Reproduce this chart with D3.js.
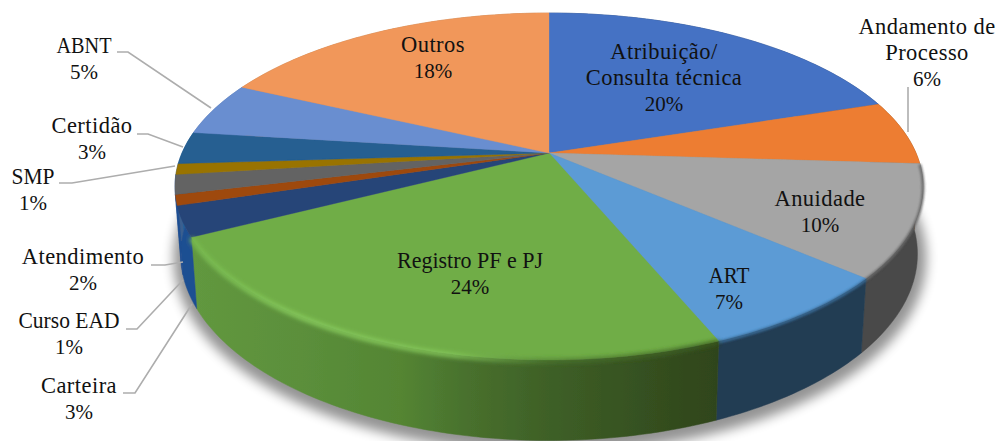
<!DOCTYPE html>
<html><head><meta charset="utf-8">
<script src="https://cdn.jsdelivr.net/npm/d3@7/dist/d3.min.js"></script>
<style>html,body{margin:0;padding:0;background:#fff}svg{display:block}</style>
</head><body><svg id="c" width="997" height="441"></svg>
<script>
// ---- data ----
const categories = ["Atribuição/ Consulta técnica","Andamento de Processo","Anuidade","ART","Registro PF e PJ","Carteira","Curso EAD","Atendimento","SMP","Certidão","ABNT","Outros"];
const shares = [20,6,10.4,7.4,23.6,2.8,1.0,1.8,1,3,5,18];
const topColors = ["#4472C4","#ED7D31","#A5A5A5","#5B9BD5","#70AD47","#264478","#9E480E","#636363","#997300","#255E91","#698ED0","#F1975A"];
const wallColors = ["#2a4678","#91501f","#484848","#233C52","url(#gw)","#1f4f92","#1f4f92","#1f4f92","#3a5f8f","#25639b","#5678b0","#c07a45"];
// ---- layout ----
const labelLines = [["Atribuição/","Consulta técnica"],["Andamento de","Processo"],["Anuidade"],["ART"],["Registro PF e PJ"],["Carteira"],["Curso EAD"],["Atendimento"],["SMP"],["Certidão"],["ABNT"],["Outros"]];
const labelPos = [[664,59],[927,34],[820,206],[729,283],[470,268],[79,393],[69,328],[83,264],[33,184],[92,133],[84,53],[433,52]];
const lineWidths = {"Registro PF e PJ":146,"Curso EAD":101,"ABNT":55,"ART":41,"SMP":43};
const leaders = [null,[[908,87],[908,132]],null,null,null,
 [[123,393],[135,393],[192,304]],[[126,329],[137,329],[183,280]],[[151,265],[165,265],[183,262]],
 [[59,183],[72,183],[175,166]],[[137,134],[148,134],[183,147]],[[117,52],[128,52],[211,108]],null];
const cx=549, cy=153, a=367, b=167, k=0.193, wallH=65, shrink=0.985;

const svg=d3.select("#c");
const defs=svg.append("defs");
const gw=defs.append("linearGradient").attr("id","gw").attr("gradientUnits","userSpaceOnUse").attr("x1",190).attr("x2",716).attr("y1",0).attr("y2",0);
[[0,"#62983f"],[.21,"#5b8f3b"],[.4,"#548533"],[.53,"#48702d"],[.7,"#3d5e26"],[1,"#2f451b"]].forEach(s=>gw.append("stop").attr("offset",s[0]).attr("stop-color",s[1]));
const gh=defs.append("linearGradient").attr("id","gh").attr("gradientUnits","userSpaceOnUse").attr("x1",190).attr("x2",716).attr("y1",0).attr("y2",0);
[[0,"#78bb50",1],[.2,"#86c95c",1],[.5,"#86c95c",.9],[.68,"#4d7a30",.7],[1,"#3a5a20",.9]].forEach(s=>gh.append("stop").attr("offset",s[0]).attr("stop-color",s[1]).attr("stop-opacity",s[2]));
[["b05",.5],["b1",1.2],["b2",2],["b8",6]].forEach(f=>defs.append("filter").attr("id",f[0]).attr("filterUnits","userSpaceOnUse").attr("x",0).attr("y",0).attr("width",997).attr("height",441).append("feGaussianBlur").attr("stdDeviation",f[1]));

const pie=d3.pie().sort(null).value(d=>d);
const arcs=pie(shares);
const line=d3.line();
// projects a point of the unit disc (angle clockwise from the top, radius r), optionally on the bottom plane
function proj(t,r=1,low=false){
  const u=r*Math.sin(t), v=-r*Math.cos(t), d=1-k*v;
  const sx=a*u/d, sy=b*v/d;
  return low?[cx+sx*shrink, cy+sy+wallH/d]:[cx+sx,cy+sy];
}
function rim(t0,t1,low=false){
  const n=Math.max(2,Math.ceil((t1-t0)/0.02));
  return d3.range(n+1).map(i=>proj(t0+(t1-t0)*i/n,1,low));
}
const all=[0,2*Math.PI];
// ground shadow
svg.append("path").attr("d",line(rim(all[0],all[1],true).map(p=>[p[0]+1,p[1]+4]))+"Z").attr("fill","#000").attr("stroke","#000").attr("stroke-width",16).attr("opacity",.42).attr("filter","url(#b8)");
const pg=svg.append("g").attr("filter","url(#b05)");
// walls
pg.append("g").selectAll("path").data(arcs).join("path")
 .attr("d",d=>line(rim(d.startAngle,d.endAngle).concat(rim(d.startAngle,d.endAngle,true).reverse()))+"Z")
 .attr("fill",(d,i)=>wallColors[i]).attr("stroke",(d,i)=>wallColors[i]).attr("stroke-width",.5);
// tops
pg.append("g").selectAll("path").data(arcs).join("path")
 .attr("d",d=>line([[cx,cy]].concat(rim(d.startAngle,d.endAngle)))+"Z")
 .attr("fill",(d,i)=>topColors[i]).attr("stroke",(d,i)=>topColors[i]).attr("stroke-width",.4);
// bevel: soft edge along the front rim of each slice
pg.append("g").selectAll("path").data(arcs.slice(2,4)).join("path")
 .attr("d",d=>line(rim(d.startAngle,d.endAngle).map(p=>[p[0],p[1]+1])))
 .attr("fill","none").attr("stroke",(d,i)=>i==0?"#6a6a6a":"#3a6d99").attr("stroke-width",3).attr("filter","url(#b1)").attr("opacity",.9);
const g=arcs[4];
pg.append("path").attr("d",line(rim(g.startAngle,g.endAngle).map(p=>[p[0],p[1]+1]))).attr("fill","none").attr("stroke","url(#gh)").attr("stroke-width",5).attr("filter","url(#b2)");
// leaders
svg.append("g").selectAll("path").data(leaders.filter(Boolean)).join("path")
 .attr("d",d=>line(d)).attr("fill","none").attr("stroke","#ADADAD").attr("stroke-width",1.6);
// labels
const lg=svg.append("g").attr("font-family","'Liberation Serif',serif").attr("font-size",22.5).attr("fill","#111").attr("text-anchor","middle");
const lh=26;
arcs.forEach((d,i)=>{
  const [x,y]=labelPos[i], L=labelLines[i];
  L.forEach((s,j)=>{
    const t=lg.append("text").attr("x",x).attr("y",y+j*lh).text(s);
    if(lineWidths[s]) t.attr("textLength",lineWidths[s]).attr("lengthAdjust","spacingAndGlyphs");
    else t.attr("letter-spacing",.45);
  });
  lg.append("text").attr("x",x).attr("y",y+L.length*lh).attr("font-size",21).text(Math.round(shares[i])+"%");
});
</script></body></html>
